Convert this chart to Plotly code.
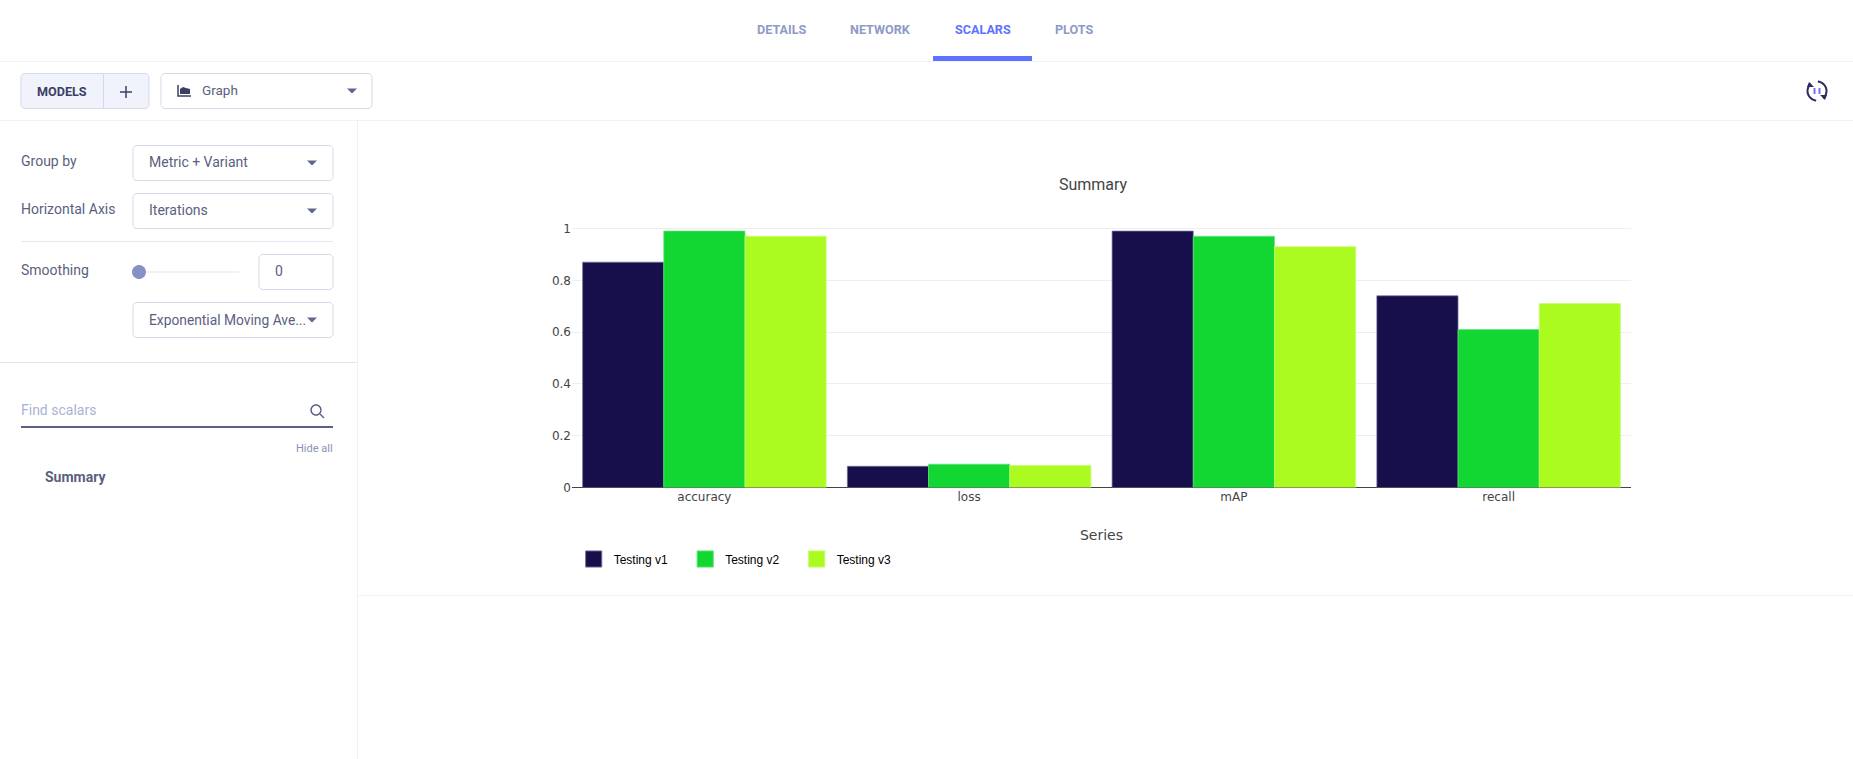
import math
import plotly.graph_objects as go

W, H = 1853, 759

# ---- chart data ----
categories = ["accuracy", "loss", "mAP", "recall"]
series_names = ["Testing v1", "Testing v2", "Testing v3"]
v1_values = [0.87, 0.082, 0.99, 0.74]
v2_values = [0.99, 0.09, 0.97, 0.61]
v3_values = [0.97, 0.085, 0.93, 0.71]
bar_colors = ["#170f4c", "#12d733", "#abfb20"]
edge_colors = ["#77739a", "#5fe575", "#c8fc70"]
y_ticks = [0, 0.2, 0.4, 0.6, 0.8, 1]
y_tick_labels = ["0", "0.2", "0.4", "0.6", "0.8", "1"]

# ---- page text ----
tab_labels = ["DETAILS", "NETWORK", "SCALARS", "PLOTS"]
UI_FONT = "Roboto"
PLOT_FONT = "DejaVu Sans"


def fx(p):
    return p / W


def fy(p):
    return 1 - p / H


shapes = []
annotations = []


def line(x0, y0, x1, y1, color, width=1):
    shapes.append(dict(type="line", xref="paper", yref="paper",
                       x0=fx(x0), y0=fy(y0), x1=fx(x1), y1=fy(y1),
                       line=dict(color=color, width=width), layer="below"))


def path(points, fill=None, color=None, width=1, close=False):
    d = "M" + " L".join(f"{fx(a):.5f},{fy(b):.5f}" for a, b in points)
    if close:
        d += " Z"
    s = dict(type="path", xref="paper", yref="paper", path=d, layer="below",
             line=dict(color=color or "rgba(0,0,0,0)", width=width if color else 0))
    if fill:
        s["fillcolor"] = fill
    shapes.append(s)


def round_box(x0, y0, x1, y1, fill="#ffffff", border="#d5d8e8", r=4):
    pts = []
    corners = [(x1 - r, y0 + r, -90), (x1 - r, y1 - r, 0), (x0 + r, y1 - r, 90), (x0 + r, y0 + r, 180)]
    for cx, cy, start in corners:
        for k in range(7):
            t = math.radians(start + k * 15)
            pts.append((cx + r * math.cos(t), cy + r * math.sin(t)))
    path(pts, fill=fill, color=border, width=1, close=True)


def text(x, y, s, size=13, color="#5a5f80", anchor="left", font=UI_FONT, bold=False):
    annotations.append(dict(xref="paper", yref="paper", x=fx(x), y=fy(y),
                            text=f"<b>{s}</b>" if bold else s, showarrow=False,
                            xanchor=anchor, yanchor="middle", align=anchor,
                            borderpad=0, borderwidth=0,
                            font=dict(family=font, size=size, color=color)))


def caret(cx, cy, color="#5f6590"):
    path([(cx - 5, cy - 2.5), (cx + 5, cy - 2.5), (cx, cy + 2.5)], fill=color, close=True)


def arc(cx, cy, r, a0, a1, color, width):
    n = 14
    pts = []
    for k in range(n + 1):
        t = math.radians(a0 + (a1 - a0) * k / n)
        pts.append((cx + r * math.cos(t), cy + r * math.sin(t)))
    path(pts, color=color, width=width)


# ---- page frame ----
line(0, 61.5, W, 61.5, "#f1f2f6")
line(0, 120.5, W, 120.5, "#f1f2f6")
line(357.5, 120, 357.5, H, "#eef0f5")
line(358, 595.5, W, 595.5, "#eef0f5")
line(0, 362.5, 357, 362.5, "#dfe3f2")

# tabs
tab_centers = [781, 880.5, 983, 1074.5]
for label, cx in zip(tab_labels, tab_centers):
    text(cx, 30, label, size=12.6, bold=True, anchor="center",
         color="#5d73ff" if label == "SCALARS" else "#8e9ac6")
path([(933, 56), (1032, 56), (1032, 61), (933, 61)], fill="#5d73ff", close=True)

# toolbar
round_box(21, 73.5, 149, 108.5, fill="#f0f3fb")
line(103.5, 74, 103.5, 108, "#d5d8e8")
text(62, 91, "MODELS", size=12.6, bold=True, color="#3b3f63", anchor="center")
line(120, 92, 132, 92, "#3b3f63", 1.5)
line(126, 86, 126, 98, "#3b3f63", 1.5)
round_box(161, 73.5, 372, 108.5)
path([(178, 85), (178, 96), (191, 96)], color="#3b3f63", width=1.5)
path([(180, 94), (180, 89), (183, 87), (186, 88), (190, 89), (190, 94)], fill="#3b3f63", close=True)
text(202, 90, "Graph", size=13.5)
caret(352, 91)

# refresh / pause icon
arc(1817, 91, 9.5, -85, 50, "#2b2b5e", 2)
arc(1817, 91, 9.5, 95, 230, "#2b2b5e", 2)
path([(1820, 95), (1827, 95), (1825, 100)], fill="#2b2b5e", close=True)
path([(1814, 87), (1807, 87), (1809, 82)], fill="#2b2b5e", close=True)
line(1814.5, 88, 1814.5, 94, "#7a6bff", 2)
line(1819.5, 88, 1819.5, 94, "#7a6bff", 2)

# sidebar controls
text(21, 161, "Group by", size=14)
round_box(133, 145.5, 333, 180.5)
text(149, 162, "Metric + Variant", size=14)
caret(312, 163)

text(21, 209, "Horizontal Axis", size=14)
round_box(133, 193.5, 333, 228.5)
text(149, 210, "Iterations", size=14)
caret(312, 211)
line(21, 241.5, 333, 241.5, "#e6e8f0")

text(21, 270, "Smoothing", size=14)
line(139, 272, 239, 272, "#f1f2f8", 2)
path([(139 + 7 * math.cos(math.radians(a)), 272 + 7 * math.sin(math.radians(a)))
      for a in range(0, 360, 20)], fill="#8492c4", close=True)
round_box(259, 254.5, 333, 289.5)
text(275, 271, "0", size=14)
round_box(133, 302.5, 333, 337.5)
text(149, 320, "Exponential Moving Ave...", size=13.8)
caret(312, 320)

text(21, 410, "Find scalars", size=14, color="#a9b2d6")
line(21, 427, 333, 427, "#5a6088", 2)
arc(316, 410, 5, 0, 360, "#5a6088", 1.5)
line(320, 414, 324, 418, "#5a6088", 1.5)
text(333, 448, "Hide all", size=11, color="#8a91b4", anchor="right")
text(45, 477, "Summary", size=14, bold=True, color="#5a5f80")

# ---- chart ----
fig = go.Figure()
for name, vals, col, edge in zip(series_names, [v1_values, v2_values, v3_values], bar_colors, edge_colors):
    fig.add_trace(go.Bar(name=name, x=categories, y=vals,
                         marker=dict(color=col, line=dict(color=edge, width=0.7))))

PLOT_L, PLOT_R = 572, 1631
Y0, Y1 = 487.5, 228.5     # pixel rows of value 0 and value 1
RANGE_TOP = 1.04
plot_top = Y0 - (Y0 - Y1) * RANGE_TOP

fig.update_layout(
    width=W, height=H, autosize=False,
    margin=dict(l=0, r=0, t=0, b=0, pad=0),
    paper_bgcolor="#ffffff", plot_bgcolor="#ffffff",
    barmode="group", bargap=0.08, bargroupgap=0,
    font=dict(family=PLOT_FONT, size=12, color="#444444"),
    title=dict(text="Summary", x=fx(1093), y=fy(184), xanchor="center", yanchor="middle",
               font=dict(family=UI_FONT, size=16, color="#444444")),
    xaxis=dict(domain=[fx(PLOT_L), fx(PLOT_R)], type="category",
               showgrid=False, zeroline=False, showline=False, ticks="",
               tickfont=dict(family=PLOT_FONT, size=12, color="#444444"),
               title=dict(text="Series", standoff=27,
                          font=dict(family=PLOT_FONT, size=14, color="#444444")),
               automargin=False),
    yaxis=dict(domain=[fy(Y0), fy(plot_top)], range=[0, RANGE_TOP],
               tickmode="array", tickvals=y_ticks, ticktext=y_tick_labels,
               showgrid=True, gridcolor="#eeeeee", gridwidth=1,
               zeroline=True, zerolinecolor="#444444", zerolinewidth=1,
               showline=False, ticks="",
               tickfont=dict(family=PLOT_FONT, size=12, color="#444444"),
               automargin=False),
    showlegend=True,
    legend=dict(orientation="h", xref="paper", yref="paper",
                x=fx(573.7), y=fy(544.5), xanchor="left", yanchor="top",
                entrywidth=66.5, entrywidthmode="pixels",
                font=dict(family="Liberation Sans", size=12, color="#000000"),
                bgcolor="rgba(0,0,0,0)"),
    shapes=shapes, annotations=annotations,
)

post = """
document.body.style.margin = '0';
var st = document.createElement('style');
st.textContent = '.legendpoints path{transform:translateX(20px) scale(1.35)}';
document.head.appendChild(st);
"""
fig.write_html("out.html", post_script=post, config=dict(displayModeBar=False))
